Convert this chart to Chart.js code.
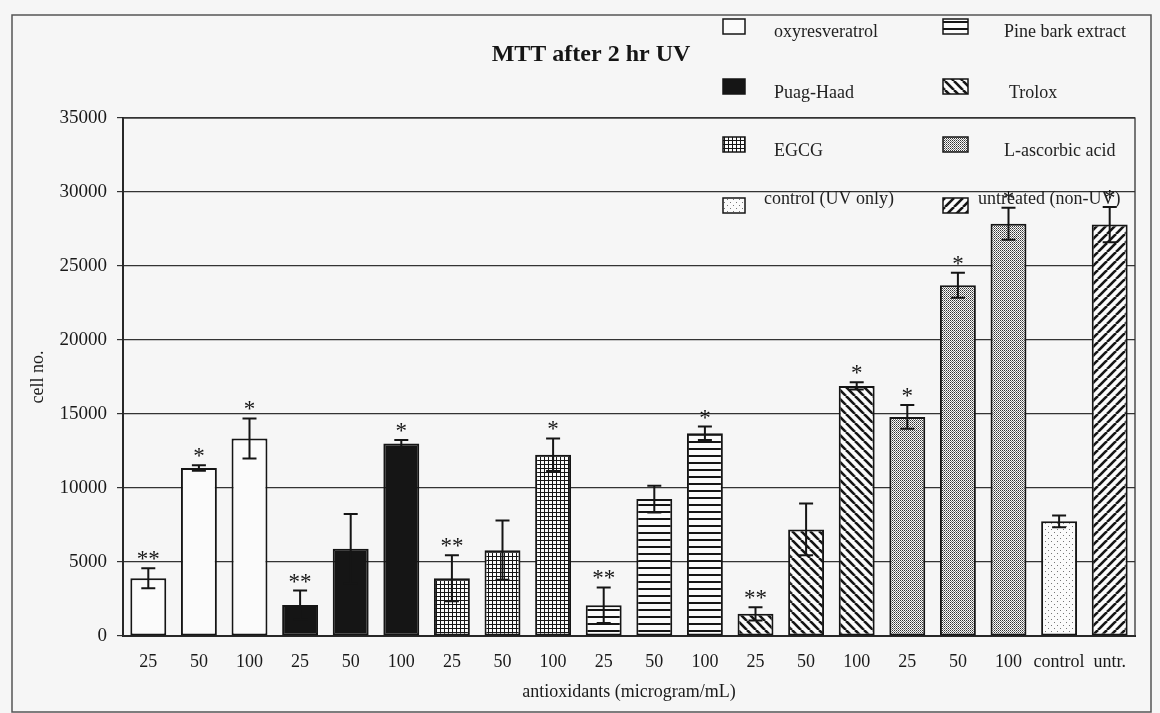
<!DOCTYPE html>
<html>
<head>
<meta charset="utf-8">
<script src="https://cdn.jsdelivr.net/npm/chart.js@4.4.1/dist/chart.umd.min.js"></script>
<style>
  html, body { margin: 0; padding: 0; background: #f6f6f6; }
  #wrap { width: 1160px; height: 713px; }
</style>
</head>
<body>
<div id="wrap"><canvas id="mtt" width="1160" height="713"></canvas></div>
<script>
// values
DOSE_LABELS = ['25', '50', '100', '25', '50', '100', '25', '50', '100', '25', '50', '100',
               '25', '50', '100', '25', '50', '100', 'control', 'untr.']
GROUP_NAMES = ['oxyresveratrol', 'Puag-Haad', 'EGCG', 'Pine bark extract', 'Trolox',
               'L-ascorbic acid', 'control (UV only)', 'untreated (non-UV)']
GROUP_OF = [0, 0, 0, 1, 1, 1, 2, 2, 2, 3, 3, 3, 4, 4, 4, 5, 5, 5, 6, 7]
CELL_NO = [3900, 11350, 13350, 2100, 5900, 13000, 3900, 5800, 12250, 2080, 9250, 13700,
           1500, 7200, 16900, 14800, 23700, 27850, 7750, 27800]
CELL_SD = [680, 180, 1350, 970, 2340, 250, 1550, 2000, 1100, 1200, 900, 450,
           450, 1750, 250, 800, 850, 1080, 400, 1190]
SIGNIF = ['**', '*', '*', '**', '', '*', '**', '', '*', '**', '', '*',
          '**', '', '*', '*', '*', '*', '', '*']
Y_TICKS = [0, 5000, 10000, 15000, 20000, 25000, 30000, 35000]

SERIF = '"Liberation Serif", "Times New Roman", serif'
INK = '#151515'
PAPER = '#fbfbfb'

function makePattern(size, paint)
{
    var c = document.createElement('canvas')
    c.width = size
    c.height = size
    var g = c.getContext('2d')
    g.fillStyle = PAPER
    g.fillRect(0, 0, size, size)
    g.fillStyle = INK
    g.strokeStyle = INK
    paint(g, size)
    return g.createPattern(c, 'repeat')
}

// one fill per group, same order as GROUP_NAMES
FILLS = [
    PAPER,
    INK,
    makePattern(4, function(g, s) { g.fillRect(0, 0, s, 1); g.fillRect(0, 0, 1, s) }),
    makePattern(7, function(g, s) { g.fillRect(0, 0, s, 2) }),
    makePattern(9, function(g, s) {
        g.lineWidth = 2.6
        for (var k = -s; k <= s; k += s) { g.beginPath(); g.moveTo(k, 0); g.lineTo(k + s, s); g.stroke() }
    }),
    makePattern(2, function(g, s) {
        g.fillStyle = '#333'; g.fillRect(0, 0, 1, 1)
        g.fillStyle = '#777'; g.fillRect(1, 1, 1, 1)
    }),
    makePattern(6, function(g, s) {
        g.fillStyle = '#777'; g.fillRect(1, 1, 1, 1); g.fillRect(4, 4, 1, 1)
    }),
    makePattern(9, function(g, s) {
        g.lineWidth = 2.6
        for (var k = -s; k <= s; k += s) { g.beginPath(); g.moveTo(k, s); g.lineTo(k + s, 0); g.stroke() }
    })
]

// legend layout: [iconX, iconW, iconY, textX, textY]
LEGEND_POS = [
    [723, 22, 19, 774, 32], [943, 25, 19, 1004, 32],
    [723, 22, 79, 774, 93], [943, 25, 79, 1009, 93],
    [723, 22, 137, 774, 151], [943, 25, 137, 1004, 151],
    [723, 22, 198, 764, 199], [943, 25, 198, 978, 199]
]
LEGEND_ORDER = [0, 3, 1, 4, 2, 5, 6, 7]

var decor = {
    id: 'decor',
    beforeDraw: function(chart) {
        var ctx = chart.ctx
        ctx.save()
        ctx.fillStyle = '#f6f6f6'
        ctx.fillRect(0, 0, chart.width, chart.height)
        ctx.strokeStyle = '#555'
        ctx.lineWidth = 1.5
        ctx.strokeRect(12, 15, 1139, 697)
        ctx.restore()
    },
    beforeDatasetsDraw: function(chart) {
        var ctx = chart.ctx, a = chart.chartArea
        ctx.save()
        ctx.strokeStyle = '#333'
        ctx.lineWidth = 1.3
        ctx.strokeRect(a.left, a.top, a.right - a.left, a.bottom - a.top)
        ctx.restore()
    },
    afterDatasetsDraw: function(chart) {
        var ctx = chart.ctx, y = chart.scales.y
        var meta = chart.getDatasetMeta(0)
        ctx.save()
        ctx.strokeStyle = INK
        ctx.fillStyle = INK
        ctx.lineWidth = 2
        ctx.font = '23px ' + SERIF
        ctx.textAlign = 'center'
        ctx.textBaseline = 'alphabetic'
        meta.data.forEach(function(bar, i) {
            var top = y.getPixelForValue(CELL_NO[i] + CELL_SD[i])
            var bot = y.getPixelForValue(CELL_NO[i] - CELL_SD[i])
            ctx.beginPath()
            ctx.moveTo(bar.x, top); ctx.lineTo(bar.x, bot)
            ctx.moveTo(bar.x - 7, top); ctx.lineTo(bar.x + 7, top)
            ctx.moveTo(bar.x - 7, bot); ctx.lineTo(bar.x + 7, bot)
            ctx.stroke()
            if (SIGNIF[i])
                ctx.fillText(SIGNIF[i], bar.x, top - 2)
        })
        ctx.restore()
    },
    afterDraw: function(chart) {
        var ctx = chart.ctx
        ctx.save()
        ctx.fillStyle = INK
        ctx.font = 'bold 24px ' + SERIF
        ctx.textAlign = 'center'
        ctx.textBaseline = 'middle'
        ctx.fillText('MTT after 2 hr UV', 591, 55)

        ctx.font = '18px ' + SERIF
        ctx.textAlign = 'left'
        LEGEND_ORDER.forEach(function(gi, k) {
            var p = LEGEND_POS[k]
            ctx.fillStyle = FILLS[gi]
            ctx.fillRect(p[0], p[2], p[1], 15)
            ctx.strokeStyle = INK
            ctx.lineWidth = 1.5
            ctx.strokeRect(p[0], p[2], p[1], 15)
            ctx.fillStyle = '#222'
            ctx.fillText(GROUP_NAMES[gi], p[3], p[4])
        })
        ctx.restore()
    }
}

new Chart('mtt', {
    type: 'bar',
    data: {
        labels: DOSE_LABELS,
        datasets: [{
            label: 'cell no.',
            data: CELL_NO,
            backgroundColor: GROUP_OF.map(function(g) { return FILLS[g] }),
            borderColor: INK,
            borderWidth: 2,
            borderSkipped: false,
            barPercentage: 0.71,
            categoryPercentage: 1.0
        }]
    },
    options: {
        responsive: false,
        animation: false,
        events: [],
        layout: { padding: { top: 118, right: 25, bottom: 0, left: 0 } },
        plugins: { legend: { display: false }, tooltip: { enabled: false } },
        scales: {
            x: {
                grid: { display: false, drawTicks: false },
                border: { display: true, color: INK, width: 2 },
                ticks: { color: '#1a1a1a', font: { family: SERIF, size: 18 }, padding: 15,
                         maxRotation: 0, autoSkip: false },
                title: { display: true, text: 'antioxidants (microgram/mL)', color: '#1a1a1a',
                         font: { family: SERIF, size: 18 }, padding: { top: 0, bottom: 10 } },
                afterFit: function(s) { s.height = 77 }
            },
            y: {
                min: 0,
                max: 35000,
                afterBuildTicks: function(s) { s.ticks = Y_TICKS.map(function(v) { return { value: v } }) },
                ticks: { color: '#1a1a1a', font: { family: SERIF, size: 19 }, padding: 10,
                         callback: function(v) { return String(v) } },
                grid: { color: '#333', lineWidth: 1.2, tickLength: 6, drawTicks: true },
                border: { color: INK, width: 2 },
                title: { display: true, text: 'cell no.', color: '#1a1a1a',
                         font: { family: SERIF, size: 18 }, padding: { top: 27, bottom: 0 } },
                afterFit: function(s) { s.width = 123 }
            }
        }
    },
    plugins: [decor]
})
</script>
</body>
</html>
